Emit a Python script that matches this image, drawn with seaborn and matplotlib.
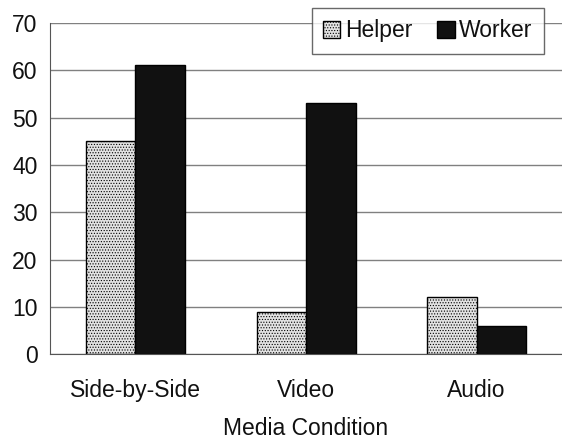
import matplotlib
matplotlib.use("Agg")
import matplotlib.pyplot as plt
import seaborn as sns
import pandas as pd
from matplotlib.patches import Patch

categories = ["Side-by-Side", "Video", "Audio"]
helper = [45, 9, 12]
worker = [61, 53, 6]
series = ["Helper", "Worker"]
yticks = [0, 10, 20, 30, 40, 50, 60, 70]

sns.set_style("white")
plt.rcParams['font.family'] = ['Liberation Sans', 'DejaVu Sans']
plt.rcParams['hatch.color'] = '#999999'
plt.rcParams['hatch.linewidth'] = 0.5
plt.rcParams['text.color'] = '#111111'
plt.rcParams['axes.labelcolor'] = '#111111'
plt.rcParams['xtick.labelcolor'] = '#111111'
plt.rcParams['ytick.labelcolor'] = '#111111'

df = pd.DataFrame({
    "cond": categories * 2,
    "val": helper + worker,
    "who": ["Helper"] * 3 + ["Worker"] * 3,
})

fig = plt.figure(figsize=(5.62, 4.40), dpi=100)
ax = fig.add_axes([0.089, 0.195, 0.911, 0.753])
sns.barplot(data=df, x="cond", y="val", hue="who", order=categories, hue_order=series,
            palette={"Helper": "#e2e2e2", "Worker": "#111111"}, width=0.58,
            edgecolor="black", linewidth=1.0, ax=ax, legend=False, saturation=1)

for p in ax.patches[:3]:
    p.set_hatch("......")
    p.set_edgecolor("black")

ax.set_ylim(0, 70)
ax.set_xlim(-0.5, 2.5)
ax.set_yticks(yticks)
ax.set_yticklabels([str(t) for t in yticks], fontsize=16.5)
ax.tick_params(axis='y', length=6, color='#555555', pad=3)
ax.tick_params(axis='x', which='major', length=0, labelsize=16.5, pad=18)
ax.set_xticks([0.5, 1.5], minor=True)
ax.tick_params(axis='x', which='minor', length=6, color='#555555', direction='out')
ax.grid(axis='y', color='#808080', linewidth=1)
ax.set_axisbelow(True)
for s in ["top", "right"]:
    ax.spines[s].set_visible(False)
ax.spines["left"].set_color("#555555")
ax.spines["bottom"].set_color("#555555")
ax.set_ylabel("")
ax.set_xlabel("Media Condition", fontsize=16.5, labelpad=11)

handles = [Patch(facecolor="#e2e2e2", edgecolor="black", hatch="......", label="Helper"),
           Patch(facecolor="#111111", edgecolor="black", label="Worker")]
leg = ax.legend(handles=handles, loc="upper right", ncol=2, fontsize=16.5, frameon=True,
                fancybox=False, edgecolor="#444444", handlelength=0.75, handleheight=0.75,
                handletextpad=0.2, columnspacing=1.1, borderpad=0.5, borderaxespad=0.0,
                bbox_to_anchor=(0.965, 1.045))
leg.get_frame().set_linewidth(1.0)

fig.savefig("out.png", dpi=100, facecolor="white")
